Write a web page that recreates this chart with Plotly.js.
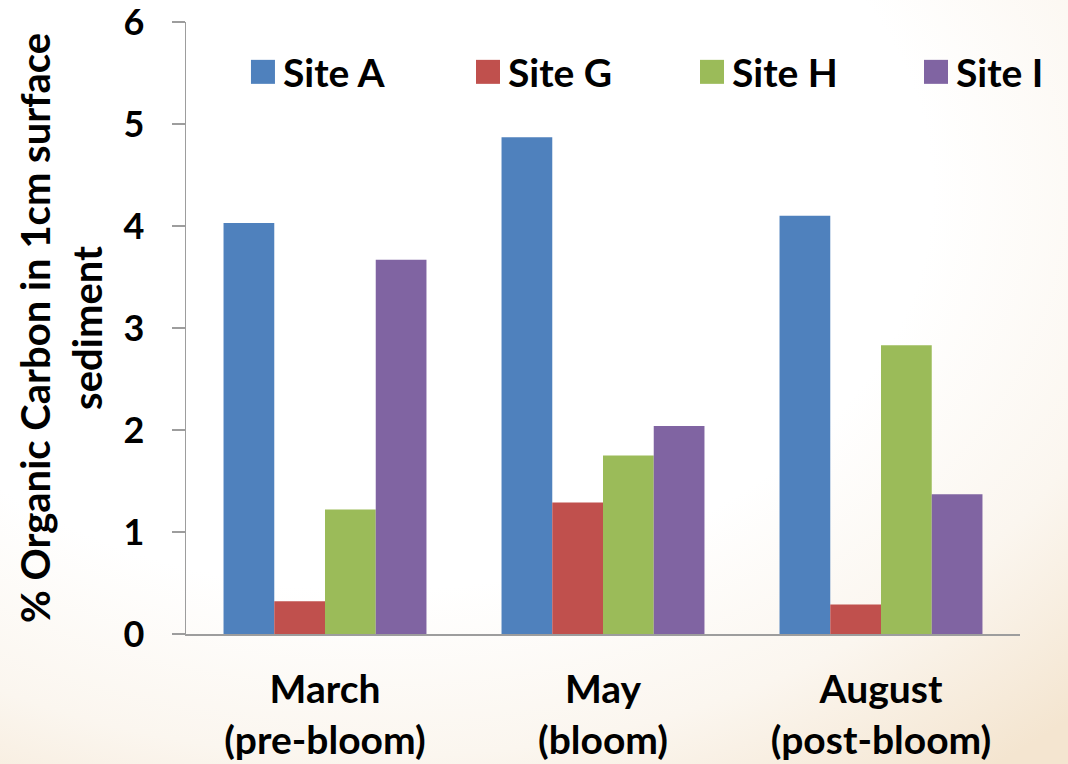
<!DOCTYPE html>
<html>
<head>
<meta charset="utf-8">
<script src="https://cdn.plot.ly/plotly-3.0.1.min.js"></script>
<style>
  html, body { margin: 0; padding: 0; }
  body {
    width: 1068px; height: 764px; overflow: hidden;
    background: radial-gradient(ellipse 95% 95% at 35% 25%, #ffffff 55%, #fbf6ef 78%, #f4e5d0 100%);
  }
  #chart { width: 1068px; height: 764px; }
</style>
</head>
<body>
<div id="chart"></div>
<script>
// Sampling periods (two-line category labels)
const periods = ["March<br>(pre-bloom)", "May<br>(bloom)", "August<br>(post-bloom)"];

// % organic carbon in the top 1 cm of sediment, per site
const siteNames = ["Site A", "Site G", "Site H", "Site I"];
const siteA = [4.03, 4.87, 4.10];
const siteG = [0.32, 1.29, 0.29];
const siteH = [1.22, 1.75, 2.83];
const siteI = [3.67, 2.04, 1.37];
const siteColors = ["#4F81BD", "#C0504D", "#9BBB59", "#8064A2"];

const yTicks = [0, 1, 2, 3, 4, 5, 6];

const FONT = "Lato, 'Open Sans', sans-serif";
const seriesValues = [siteA, siteG, siteH, siteI];

// one legend per site so the entries sit on an evenly spaced row
const legendIds = ["legend", "legend2", "legend3", "legend4"];
const legendX = [0.0683, 0.3381, 0.6067, 0.8753];

const traces = siteNames.map((name, i) => ({
  type: "bar",
  name: name,
  x: periods,
  y: seriesValues[i],
  legend: legendIds[i],
  marker: { color: siteColors[i], line: { width: 0 } },
  hoverinfo: "skip"
}));

const layout = {
  width: 1068,
  height: 764,
  paper_bgcolor: "rgba(0,0,0,0)",
  plot_bgcolor: "rgba(0,0,0,0)",
  margin: { l: 186, r: 48, t: 22, b: 130, autoexpand: false },
  barmode: "group",
  bargap: 0.27,
  bargroupgap: 0,
  font: { family: FONT, color: "#000000", size: 39, weight: 700 },
  showlegend: true,
  xaxis: {
    type: "category",
    showline: true,
    linecolor: "#9d9d9d",
    linewidth: 1.5,
    ticks: "",
    showgrid: false,
    zeroline: false,
    ticklabelstandoff: 21,
    tickfont: { family: FONT, size: 39, color: "#000000", weight: 700 }
  },
  yaxis: {
    range: [0, 6],
    tickvals: yTicks,
    ticktext: yTicks.map(String),
    showline: true,
    linecolor: "#9d9d9d",
    linewidth: 1.5,
    ticks: "outside",
    ticklen: 13,
    tickwidth: 1.5,
    tickcolor: "#9d9d9d",
    showgrid: false,
    zeroline: false,
    ticklabelstandoff: 20,
    ticklabeloverflow: "allow",
    tickfont: { family: FONT, size: 36, color: "#000000", weight: 700 },
    automargin: false,
    title: {
      text: "% Organic Carbon in 1cm surface<br>sediment",
      font: { family: FONT, size: 40, color: "#000000", weight: 700 },
      standoff: 8
    }
  }
};

legendIds.forEach((id, i) => {
  layout[id] = {
    orientation: "h",
    xref: "paper",
    yref: "paper",
    x: legendX[i],
    xanchor: "left",
    y: 0.9183,
    yanchor: "middle",
    bgcolor: "rgba(0,0,0,0)",
    font: { family: FONT, size: 39, color: "#000000", weight: 700 }
  };
});

Plotly.newPlot("chart", traces, layout, { displayModeBar: false, staticPlot: true }).then(() => {
  // Enlarge the legend swatches to 24px squares around their own centres
  document.querySelectorAll(".legendpoints path").forEach(p => {
    const b = p.getBBox();
    const cx = b.x + b.width / 2;
    const cy = b.y + b.height / 2;
    p.setAttribute("d", `M${cx - 12},${cy - 12}h24v24h-24Z`);
  });
});
</script>
</body>
</html>
